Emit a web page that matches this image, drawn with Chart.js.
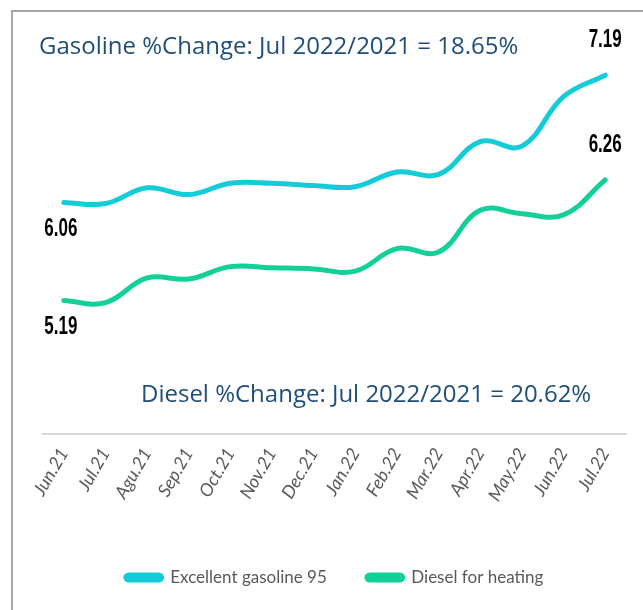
<!DOCTYPE html>
<html>
<head>
<meta charset="utf-8">
<script src="https://cdn.jsdelivr.net/npm/chart.js@4.4.0/dist/chart.umd.min.js"></script>
<style>
  html, body { margin: 0; padding: 0; background: #fff; }
  #wrap { position: absolute; left: 0; top: 0; width: 643px; height: 610px; }
  #frame { position: absolute; left: 11px; top: 10px; width: 640px; height: 610px;
           border-left: 2px solid #a6a6a6; border-top: 2px solid #a6a6a6; box-sizing: border-box; }
</style>
</head>
<body>
<div id="frame"></div>
<div id="wrap"><canvas id="chart1"></canvas></div>
<script>
// months shown on the x axis
const months = ["Jun.21", "Jul.21", "Agu.21", "Sep.21", "Oct.21", "Nov.21", "Dec.21",
                "Jan.22", "Feb.22", "Mar.22", "Apr.22", "May.22", "Jun.22", "Jul.22"];
const gasoline = [6.06, 6.05, 6.19, 6.13, 6.23, 6.23, 6.21, 6.20, 6.33, 6.31, 6.60, 6.56, 7.00, 7.19];
const diesel   = [5.19, 5.17, 5.39, 5.38, 5.49, 5.48, 5.47, 5.45, 5.65, 5.62, 5.99, 5.96, 5.95, 6.26];
const seriesNames = ["Excellent gasoline 95", "Diesel for heating"];
const notes = ["Gasoline %Change: Jul 2022/2021 = 18.65%", "Diesel %Change: Jul 2022/2021 = 20.62%"];

const cyan = "#14cbd8";
const green = "#13cf98";

// draws condensed bold text by squeezing it sideways
function narrowText(ctx, txt, x, y) {
  ctx.save();
  ctx.translate(x, y);
  ctx.scale(0.68, 1);
  ctx.fillText(txt, 0, 0);
  ctx.restore();
}

// end labels + the two change notes
const extras = {
  id: "extras",
  afterDatasetsDraw(chart) {
    const ctx = chart.ctx;
    const area = chart.chartArea;
    ctx.save();
    ctx.fillStyle = "#000";
    ctx.font = "bold 25px 'Liberation Sans', sans-serif";
    ctx.textAlign = "center";
    ctx.textBaseline = "middle";
    chart.data.datasets.forEach(function (ds, i) {
      const pts = chart.getDatasetMeta(i).data;
      const first = pts[0], last = pts[pts.length - 1];
      narrowText(ctx, ds.data[0].toFixed(2), first.x - 3, first.y + 27);
      narrowText(ctx, ds.data[ds.data.length - 1].toFixed(2), last.x, last.y - 35);
    });
    ctx.fillStyle = "#1f4e79";
    ctx.font = "24px 'Open Sans', sans-serif";
    ctx.textAlign = "left";
    ctx.fillText(notes[0], area.left - 4, 47);
    ctx.fillText(notes[1], area.left + 98, 395);
    ctx.restore();
  }
};

new Chart(document.getElementById("chart1"), {
  type: "line",
  data: {
    labels: months,
    datasets: [{
      label: seriesNames[0],
      data: gasoline,
      borderColor: cyan,
      backgroundColor: cyan,
      borderWidth: 5,
      borderCapStyle: "round",
      tension: 0.4,
      pointRadius: 0
    }, {
      label: seriesNames[1],
      data: diesel,
      borderColor: green,
      backgroundColor: green,
      borderWidth: 5,
      borderCapStyle: "round",
      tension: 0.4,
      pointRadius: 0
    }]
  },
  options: {
    responsive: true,
    maintainAspectRatio: false,
    animation: false,
    layout: { padding: { left: 43, right: 17, top: 29, bottom: 14 } },
    plugins: {
      tooltip: { enabled: false },
      legend: {
        position: "bottom",
        labels: {
          boxWidth: 36,
          boxHeight: 5,
          useBorderRadius: true,
          borderRadius: 3,
          padding: 40,
          color: "#595959",
          font: { family: "Lato, sans-serif", size: 17 }
        }
      }
    },
    scales: {
      x: {
        offset: true,
        grid: { display: false, drawTicks: false },
        border: { display: true, color: "#d9d9d9", width: 2 },
        afterFit: function (scale) { scale.height += 14; },
        ticks: {
          maxRotation: 60,
          minRotation: 60,
          padding: 10,
          color: "#595959",
          font: { family: "Lato, sans-serif", size: 18, style: "italic" }
        }
      },
      y: {
        display: false,
        min: 4,
        max: 7.6
      }
    }
  },
  plugins: [extras]
});
</script>
</body>
</html>
